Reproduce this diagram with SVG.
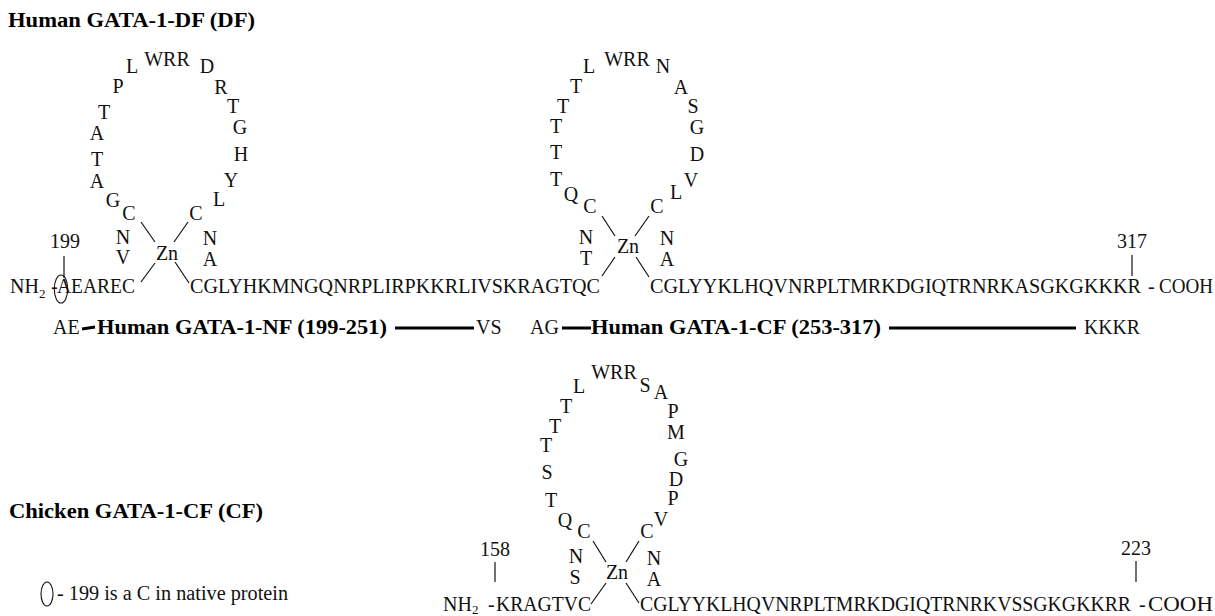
<svg xmlns="http://www.w3.org/2000/svg" width="1215" height="616" viewBox="0 0 1215 616">
<style>
text{font-family:"Liberation Serif","Times New Roman",serif;font-size:20px;fill:#111}
.c{text-anchor:middle}
.b{font-weight:bold;font-size:20px;fill:#000}
.s{font-size:13px}
line{stroke:#111;stroke-width:1.2}
.t{stroke:#000;stroke-width:3}
ellipse{fill:none;stroke:#111;stroke-width:1.1}
</style>
<rect width="1215" height="616" fill="#fff"/>
<g id="titles">
<text class="b" x="8" y="27" textLength="247" lengthAdjust="spacingAndGlyphs">Human GATA-1-DF (DF)</text>
<text class="b" x="9" y="518" textLength="254" lengthAdjust="spacingAndGlyphs">Chicken GATA-1-CF (CF)</text>
</g>
<g id="connectors">
<line x1="141" y1="222" x2="155" y2="242"/><line x1="188" y1="222" x2="174" y2="242"/><line x1="155" y1="263" x2="141" y2="282"/><line x1="175" y1="262" x2="189" y2="283"/>
<line x1="64" y1="256" x2="64" y2="278"/>
<line x1="602" y1="216" x2="615" y2="236"/><line x1="649" y1="216" x2="635" y2="236"/><line x1="615" y1="257" x2="602" y2="276"/><line x1="636" y1="257" x2="649" y2="277"/>
<line x1="1132" y1="255" x2="1132" y2="276"/>
<line x1="593" y1="541" x2="606" y2="562"/><line x1="639" y1="541" x2="626" y2="562"/><line x1="606" y1="583" x2="591" y2="604"/><line x1="626" y1="583" x2="639" y2="603"/>
<line x1="495" y1="562" x2="495" y2="582"/><line x1="1136" y1="561" x2="1136" y2="582"/>
<line class="t" x1="82" y1="329" x2="95" y2="327"/><line class="t" x1="395" y1="328" x2="474" y2="328"/>
<line class="t" x1="562" y1="328" x2="591" y2="328"/><line class="t" x1="889" y1="328" x2="1076" y2="328"/>
</g>
<g id="df-finger-1">
<text class="c" x="132" y="73">L</text><text class="c" x="167" y="66">WRR</text><text class="c" x="207" y="73">D</text><text class="c" x="221" y="94">R</text><text class="c" x="233" y="113">T</text><text class="c" x="240" y="134">G</text><text class="c" x="241" y="161">H</text><text class="c" x="231" y="187">Y</text><text class="c" x="219" y="206">L</text><text class="c" x="196" y="220">C</text>
<text class="c" x="118" y="93">P</text><text class="c" x="104" y="119">T</text><text class="c" x="97" y="140">A</text><text class="c" x="97" y="166">T</text><text class="c" x="97" y="188">A</text><text class="c" x="113" y="207">G</text><text class="c" x="129" y="220">C</text>
<text class="c" x="123" y="244">N</text><text class="c" x="123" y="264">V</text><text class="c" x="210" y="245">N</text><text class="c" x="210" y="266">A</text><text class="c" x="167" y="260">Zn</text>
</g>
<g id="df-finger-2">
<text class="c" x="589" y="73">L</text><text class="c" x="627" y="66">WRR</text><text class="c" x="663" y="73">N</text><text class="c" x="681" y="94">A</text><text class="c" x="693" y="113">S</text><text class="c" x="697" y="134">G</text><text class="c" x="697" y="161">D</text><text class="c" x="691" y="187">V</text><text class="c" x="676" y="199">L</text><text class="c" x="657" y="213">C</text>
<text class="c" x="576" y="93">T</text><text class="c" x="563" y="113">T</text><text class="c" x="556" y="133">T</text><text class="c" x="556" y="159">T</text><text class="c" x="556" y="186">T</text><text class="c" x="571" y="201">Q</text><text class="c" x="590" y="213">C</text>
<text class="c" x="586" y="244">N</text><text class="c" x="586" y="265">T</text><text class="c" x="667" y="245">N</text><text class="c" x="667" y="266">A</text><text class="c" x="628" y="253">Zn</text>
</g>
<g id="df-sequence">
<text x="10" y="293">NH<tspan class="s" dy="5">2</tspan></text>
<text x="51" y="293">-</text>
<text x="57" y="293" textLength="78" lengthAdjust="spacingAndGlyphs">AEAREC</text>
<ellipse cx="61" cy="289" rx="6.7" ry="14"/>
<text class="c" x="65" y="248">199</text>
<text x="190" y="293" textLength="410" lengthAdjust="spacingAndGlyphs">CGLYHKMNGQNRPLIRPKKRLIVSKRAGTQC</text>
<text x="650" y="293" textLength="491" lengthAdjust="spacingAndGlyphs">CGLYYKLHQVNRPLTMRKDGIQTRNRKASGKGKKKR</text>
<text x="1148" y="293">-</text>
<text x="1159" y="293" textLength="54" lengthAdjust="spacingAndGlyphs">COOH</text>
<text class="c" x="1132" y="248">317</text>
</g>
<g id="domain-labels">
<text x="53" y="334">AE</text>
<text class="b" x="97" y="334" textLength="290" lengthAdjust="spacingAndGlyphs">Human GATA-1-NF (199-251)</text>
<text x="476" y="334">VS</text>
<text x="530" y="334">AG</text>
<text class="b" x="591" y="334" textLength="290" lengthAdjust="spacingAndGlyphs">Human GATA-1-CF (253-317)</text>
<text x="1084" y="334" textLength="56" lengthAdjust="spacingAndGlyphs">KKKR</text>
</g>
<g id="cf-finger">
<text class="c" x="579" y="393">L</text><text class="c" x="614" y="379">WRR</text><text class="c" x="645" y="392">S</text><text class="c" x="661" y="399">A</text><text class="c" x="673" y="418">P</text><text class="c" x="676" y="439">M</text><text class="c" x="681" y="466">G</text><text class="c" x="676" y="486">D</text><text class="c" x="673" y="505">P</text><text class="c" x="661" y="526">V</text><text class="c" x="647" y="538">C</text>
<text class="c" x="566" y="413">T</text><text class="c" x="555" y="433">T</text><text class="c" x="546" y="452">T</text><text class="c" x="547" y="479">S</text><text class="c" x="551" y="507">T</text><text class="c" x="565" y="527">Q</text><text class="c" x="584" y="538">C</text>
<text class="c" x="576" y="563">N</text><text class="c" x="575" y="584">S</text><text class="c" x="654" y="565">N</text><text class="c" x="654" y="586">A</text><text class="c" x="617" y="579">Zn</text>
</g>
<g id="cf-sequence">
<text class="c" x="495" y="556">158</text><text class="c" x="1136" y="555">223</text>
<text x="443" y="611">NH<tspan class="s" dy="3">2</tspan></text>
<text x="488" y="611">-</text>
<text x="496" y="611" textLength="95" lengthAdjust="spacingAndGlyphs">KRAGTVC</text>
<text x="640" y="611" textLength="491" lengthAdjust="spacingAndGlyphs">CGLYYKLHQVNRPLTMRKDGIQTRNRKVSSGKGKKRR</text>
<text x="1139" y="611">-</text>
<text x="1148" y="611" textLength="65" lengthAdjust="spacingAndGlyphs">COOH</text>
</g>
<g id="legend">
<ellipse cx="47" cy="594" rx="6" ry="12"/>
<text x="57" y="600" textLength="231" lengthAdjust="spacingAndGlyphs">- 199 is a C in native protein</text>
</g>
</svg>
